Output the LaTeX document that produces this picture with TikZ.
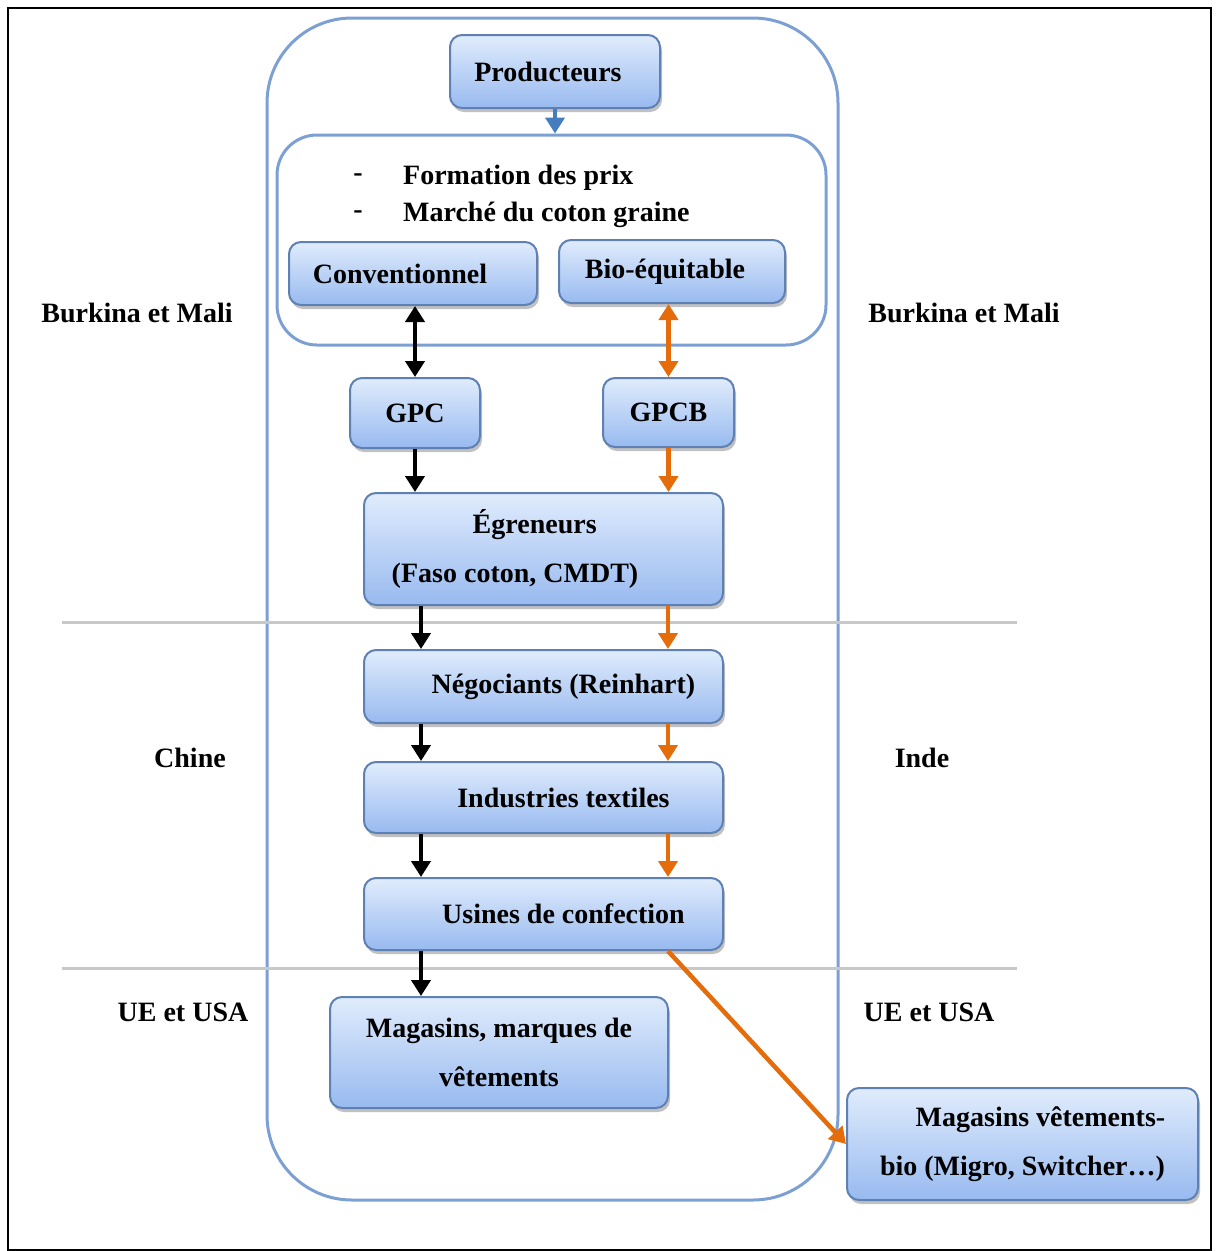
\documentclass[tikz,border=0pt]{standalone}
\usepackage{fontspec}
\setmainfont{Liberation Serif}
\usetikzlibrary{arrows.meta,shadows}
\definecolor{boxtop}{RGB}{224,236,252}
\definecolor{boxbot}{RGB}{152,186,240}
\definecolor{boxdraw}{RGB}{95,128,178}
\definecolor{frameblue}{RGB}{125,160,212}
\definecolor{orng}{RGB}{228,108,10}
\definecolor{arrblue}{RGB}{70,125,190}
\definecolor{sepgray}{RGB}{200,200,200}
\begin{document}
\begin{tikzpicture}[x=1pt,y=-1pt,
  box/.style={draw=boxdraw, line width=2pt, rounded corners=12pt,
    top color=boxtop, bottom color=boxbot,
    drop shadow={shadow xshift=2pt,shadow yshift=-4pt,opacity=0.35,fill=black!70},
    inner sep=0pt, font=\fontsize{28}{49}\selectfont\bfseries, align=center},
  lbl/.style={font=\fontsize{28}{34}\selectfont\bfseries, inner sep=0pt},
  frm/.style={draw=frameblue, line width=3pt, inner sep=0pt},
  arr/.style={line width=4.5pt, -{Triangle[length=16pt,width=19pt]}},
  darr/.style={line width=4.5pt, {Triangle[length=16pt,width=19pt]}-{Triangle[length=16pt,width=19pt]}},
  sep/.style={draw=sepgray, line width=3pt}]
\useasboundingbox (0,0) rectangle (1219,1251);
\draw[black, line width=1.5pt] (8,8) rectangle (1211,1250);
% frames
\node[frm, rounded corners=85pt, minimum width=571pt, minimum height=1182pt] (outer) at (552.5,609) {};
\node[frm, rounded corners=40pt, minimum width=549pt, minimum height=210pt] (inner) at (551.5,240) {};
% separators
\draw[sep] (62,622) -- (1017,622);
\draw[sep] (62,968) -- (1017,968);
% column coordinates
\coordinate (cL) at (421,0);
\coordinate (cR) at (668,0);
% boxes
\node[box, minimum width=210pt, minimum height=73pt] (prod) at (555,71.5) {Producteurs\hspace*{14pt}};
\node[lbl] (d1) at (358,178) {-};
\node[lbl, anchor=west] (t1) at (403,178) {Formation des prix};
\node[lbl] (d2) at (358,215) {-};
\node[lbl, anchor=west] (t2) at (403,215) {Marché du coton graine};
\node[box, minimum width=248pt, minimum height=63pt] (conv) at (413,273.5) {Conventionnel\hspace*{26pt}};
\node[box, minimum width=226pt, minimum height=63pt] (bio) at (672,271.5) {Bio-équitable\hspace*{14pt}};
\node[box, minimum width=130pt, minimum height=70pt] (gpc) at (415,413) {GPC};
\node[box, minimum width=131pt, minimum height=69pt] (gpcb) at (668.5,412.5) {GPCB};
\node[box, minimum width=359pt, minimum height=112pt, align=left] (egr) at (543.5,549) {\hspace*{81pt}Égreneurs\\(Faso coton, CMDT)\hspace*{57pt}};
\node[box, minimum width=359pt, minimum height=73pt] (neg) at (543.5,686.5) {\hspace*{40pt}Négociants (Reinhart)};
\node[box, minimum width=359pt, minimum height=71pt] (ind) at (543.5,797.5) {\hspace*{40pt}Industries textiles};
\node[box, minimum width=359pt, minimum height=72pt] (usi) at (543.5,914) {\hspace*{40pt}Usines de confection};
\node[box, minimum width=338pt, minimum height=111pt] (mag) at (499,1052.5) {Magasins, marques de\\vêtements};
\node[box, minimum width=351pt, minimum height=112pt] (magbio) at (1022.5,1144) {\hspace*{36pt}Magasins vêtements-\\bio (Migro, Switcher…)};
% side labels
\node[lbl] (bmL) at (137,313) {Burkina et Mali};
\node[lbl] (bmR) at (964,313) {Burkina et Mali};
\node[lbl] (chL) at (190,758) {Chine};
\node[lbl] (inR) at (922,758) {Inde};
\node[lbl] (ueL) at (183,1012) {UE et USA};
\node[lbl] (ueR) at (929,1012) {UE et USA};
% connectors
\draw[arr, arrblue] (prod.south) -- (prod.south |- inner.north);
\draw[darr, black] (gpc.north |- conv.south) -- (gpc.north);
\draw[darr, orng] (gpcb.north |- bio.south) -- (gpcb.north);
\draw[arr, black] (gpc.south) -- (gpc.south |- egr.north);
\draw[arr, orng] (gpcb.south) -- (gpcb.south |- egr.north);
\draw[arr, black] (egr.south -| cL) -- (neg.north -| cL);
\draw[arr, orng] (egr.south -| cR) -- (neg.north -| cR);
\draw[arr, black] (neg.south -| cL) -- (ind.north -| cL);
\draw[arr, orng] (neg.south -| cR) -- (ind.north -| cR);
\draw[arr, black] (ind.south -| cL) -- (usi.north -| cL);
\draw[arr, orng] (ind.south -| cR) -- (usi.north -| cR);
\draw[arr, black] (usi.south -| cL) -- (mag.north -| cL);
\draw[arr, orng] (usi.south -| cR) -- (magbio.west);
\end{tikzpicture}
\end{document}
